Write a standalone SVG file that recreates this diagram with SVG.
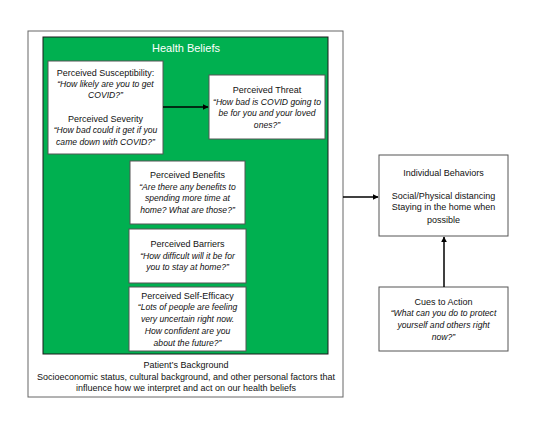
<svg xmlns="http://www.w3.org/2000/svg" width="550" height="425" viewBox="0 0 550 425">
<style>
text{font-family:"Liberation Sans",Arial,sans-serif;font-size:9px;fill:#111;text-anchor:middle}
.q{font-style:italic;font-size:8.6px}
.box{fill:#fff;stroke:#555;stroke-width:1}
.con{stroke:#000;stroke-width:1.5;fill:none}
</style>
<defs>
<marker id="ah" viewBox="0 0 10 10" refX="9" refY="5" markerWidth="6" markerHeight="6" orient="auto" markerUnits="userSpaceOnUse">
<path d="M0,0 L10,5 L0,10 z" fill="#000"/>
</marker>
</defs>
<rect width="550" height="425" fill="#fff"/>
<g id="background">
<rect x="28" y="31" width="315" height="366" fill="#fff" stroke="#666" stroke-width="1"/>
<text x="186" y="368">Patient’s Background</text>
<text x="186" y="380">Socioeconomic status, cultural background, and other personal factors that</text>
<text x="186" y="391">influence how we interpret and act on our health beliefs</text>
</g>
<g id="health-beliefs">
<rect x="43" y="37" width="285" height="317" fill="#00B050" stroke="#1a1a1a" stroke-width="1"/>
<text x="186" y="52" style="font-size:11px;fill:#fff">Health Beliefs</text>
</g>
<g id="susceptibility">
<rect class="box" x="48" y="61" width="115" height="93" stroke="none"/>
<text x="105.5" y="76">Perceived Susceptibility:</text>
<text class="q" x="105.5" y="87">“How likely are you to get</text>
<text class="q" x="105.5" y="98">COVID?”</text>
<text x="105.5" y="122">Perceived Severity</text>
<text class="q" x="105.5" y="133">“How bad could it get if you</text>
<text class="q" x="105.5" y="145">came down with COVID?”</text>
</g>
<g id="threat">
<rect class="box" x="209" y="75" width="116" height="64" stroke="none"/>
<text x="267" y="93">Perceived Threat</text>
<text class="q" x="267" y="105">“How bad is COVID going to</text>
<text class="q" x="267" y="116">be for you and your loved</text>
<text class="q" x="267" y="128">ones?”</text>
</g>
<g id="benefits">
<rect class="box" x="130" y="161" width="115" height="63" stroke="none"/>
<text x="187.5" y="178">Perceived Benefits</text>
<text class="q" x="187.5" y="190">“Are there any benefits to</text>
<text class="q" x="187.5" y="201">spending more time at</text>
<text class="q" x="187.5" y="213">home? What are those?”</text>
</g>
<g id="barriers">
<rect class="box" x="129" y="229" width="117" height="54" stroke="none"/>
<text x="187.5" y="247">Perceived Barriers</text>
<text class="q" x="187.5" y="259">“How difficult will it be for</text>
<text class="q" x="187.5" y="270">you to stay at home?”</text>
</g>
<g id="self-efficacy">
<rect class="box" x="129" y="287" width="117" height="64" stroke="none"/>
<text x="187.5" y="299">Perceived Self-Efficacy</text>
<text class="q" x="187.5" y="310">“Lots of people are feeling</text>
<text class="q" x="187.5" y="322">very uncertain right now.</text>
<text class="q" x="187.5" y="334">How confident are you</text>
<text class="q" x="187.5" y="346">about the future?”</text>
</g>
<g id="individual-behaviors">
<rect class="box" x="379" y="155" width="129" height="81"/>
<text x="443.5" y="176">Individual Behaviors</text>
<text x="443.5" y="199">Social/Physical distancing</text>
<text x="443.5" y="210">Staying in the home when</text>
<text x="443.5" y="223">possible</text>
</g>
<g id="cues">
<rect class="box" x="379" y="287" width="129" height="64"/>
<text x="443.5" y="305">Cues to Action</text>
<text class="q" x="443.5" y="316">“What can you do to protect</text>
<text class="q" x="443.5" y="328">yourself and others right</text>
<text class="q" x="443.5" y="340">now?”</text>
</g>
<g id="connectors">
<line class="con" x1="163" y1="107" x2="208" y2="107" marker-end="url(#ah)"/>
<line class="con" x1="343" y1="197" x2="378" y2="197" marker-end="url(#ah)"/>
<line class="con" x1="444" y1="287" x2="444" y2="237" marker-end="url(#ah)"/>
</g>
</svg>
